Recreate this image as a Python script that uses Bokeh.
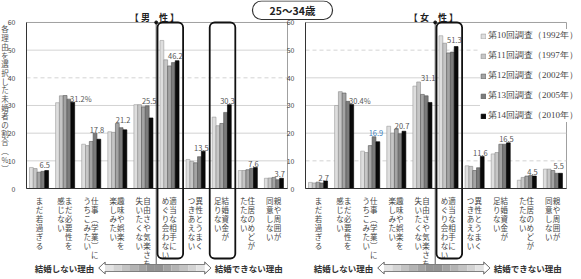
from bokeh.plotting import figure
from bokeh.models import (Range1d, LinearAxis, FixedTicker, ColumnDataSource, BoxAnnotation,
                          Legend, LegendItem)
from bokeh.embed import file_html
from bokeh.resources import INLINE
from bokeh.core.properties import value

# ---------------- data ----------------
survey_labels = ["第10回調査（1992年）", "第11回調査（1997年）", "第12回調査（2002年）",
                 "第13回調査（2005年）", "第14回調査（2010年）"]

categories = [["まだ若過ぎる"], ["まだ必要性を", "感じない"], ["仕事︵学業︶に", "うちこみたい"],
              ["趣味や娯楽を", "楽しみたい"], ["自由さや気楽さを", "失いたくない"],
              ["適当な相手に", "めぐり会わない"], ["異性とうまく", "つきあえない"],
              ["結婚資金が", "足りない"], ["住居のめどが", "たたない"], ["親や周囲が", "同意しない"]]

male_1992 = [7.6, 31.0, 16.0, 20.5, 30.3, 53.5, 10.5, 25.8, 6.5, 3.7]
male_1997 = [7.2, 33.5, 15.5, 20.3, 30.3, 46.5, 9.8, 22.7, 6.5, 3.8]
male_2002 = [5.9, 33.6, 17.0, 23.5, 29.5, 44.3, 9.3, 23.5, 6.8, 4.0]
male_2005 = [6.2, 32.3, 20.0, 22.0, 29.9, 45.5, 11.5, 27.5, 7.3, 3.2]
male_2010 = [6.5, 31.2, 17.8, 21.2, 25.5, 46.2, 13.5, 30.3, 7.6, 3.7]
male_labels = ["6.5", "31.2%", "17.8", "21.2", "25.5", "46.2", "13.5", "30.3", "7.6", "3.7"]

female_1992 = [2.2, 30.0, 13.5, 22.5, 37.0, 55.2, 8.2, 12.5, 3.0, 7.0]
female_1997 = [2.0, 35.0, 13.0, 20.0, 38.5, 52.5, 8.0, 13.0, 4.0, 7.0]
female_2002 = [2.3, 34.5, 15.5, 21.5, 34.0, 49.0, 6.5, 16.0, 4.5, 6.5]
female_2005 = [2.0, 31.5, 18.7, 19.8, 33.5, 49.3, 7.5, 16.0, 4.7, 5.5]
female_2010 = [2.7, 30.4, 16.9, 20.7, 31.1, 51.3, 11.6, 16.5, 4.5, 5.5]
female_labels = ["2.7", "30.4%", "16.9", "20.7", "31.1", "51.3", "11.6", "16.5", "4.5", "5.5"]

panel_titles = ["【 男　性 】", "【 女　性 】"]
main_title = "25～34歳"
y_title = "各理由を選択した未婚者の割合︵%︶"
y_ticks = [0, 10, 20, 30, 40, 50, 60]
reason_left = "結婚しない理由"
reason_right = "結婚できない理由"
male_boxed = [5, 7]
female_boxed = [5]

# ---------------- style / layout ----------------
fills = ["#dedede", "#c6c6c6", "#a4a4a4", "#7c7c7c", "#0a0a0a"]
lines = ["#9a9a9a", "#8c8c8c", "#555555", "#555555", "#000000"]
JP = "Noto Sans CJK JP"

W, H = 581, 279
PXX, X0, PXY, Y0 = 26.1, 26.0, 2.767, 188.0
def sx(px): return (px - X0) / PXX
def sy(py): return (Y0 - py) / PXY

offsets = [0.0, sx(305)]
bw = 0.146

p = figure(width=W, height=H, output_backend="svg", toolbar_location=None,
           x_axis_type=None, y_axis_type=None, min_border=0,
           x_range=Range1d(sx(0), sx(W)), y_range=Range1d(sy(H), sy(0)))
p.outline_line_color = None
p.background_fill_color = "white"
p.xgrid.visible = False
p.ygrid.visible = False

grid_dash = [{10: "solid", 20: "solid", 30: "solid", 40: "4 3", 50: "solid"},
             {10: "4 3", 20: "solid", 30: "solid", 40: "solid", 50: "4 3"}]

for pi, off in enumerate(offsets):
    p.quad(left=[off], right=[off + 10], bottom=[0], top=[60], fill_color=None,
           line_color="#a0a0a0", line_width=1)
    for t in y_ticks[1:-1]:
        p.segment(x0=[off], x1=[off + 10], y0=[t], y1=[t], line_color="#c8c8c8",
                  line_width=0.8, line_dash=grid_dash[pi][t])
    ya = LinearAxis(fixed_location=off, bounds=(0, 60), ticker=FixedTicker(ticks=y_ticks),
                    axis_line_color="#333333", axis_line_width=1,
                    major_tick_line_color=None, minor_tick_line_color=None,
                    major_label_text_font=JP, major_label_text_font_size="7px",
                    major_label_text_color="#444444", major_label_standoff=5)
    p.add_layout(ya, "left")
    xa = LinearAxis(fixed_location=0, bounds=(off, off + 10), ticker=FixedTicker(ticks=[]),
                    axis_line_color="#333333", axis_line_width=1,
                    major_tick_line_color=None, minor_tick_line_color=None,
                    major_label_text_font_size="0px")
    p.add_layout(xa, "below")

male = [male_1992, male_1997, male_2002, male_2005, male_2010]
female = [female_1992, female_1997, female_2002, female_2005, female_2010]

renderers = []
for k in range(5):
    xs, tops = [], []
    for off, series in zip(offsets, [male[k], female[k]]):
        for i, v in enumerate(series):
            xs.append(off + i + 0.5 + (k - 2) * bw - 0.02)
            tops.append(v)
    src = ColumnDataSource(dict(x=xs, top=tops))
    r = p.vbar(x="x", top="top", bottom=0, width=bw, source=src,
               fill_color=fills[k], line_color=lines[k], line_width=0.6)
    renderers.append(r)

# value labels
for off, data, labels in zip(offsets, [male, female], [male_labels, female_labels]):
    cx, cy, ct, cc = [], [], [], []
    px_, py_, pt_ = [], [], []
    for i, lab in enumerate(labels):
        vals = [s[i] for s in data]
        if lab.endswith("%"):
            px_.append(off + i + 0.5 + 0.17); py_.append(vals[4]); pt_.append(lab)
        else:
            cx.append(off + i + 0.5 + 0.2); cy.append(max(vals[1:])); ct.append(lab)
            cc.append("#3d7fc0" if lab == "16.9" else "#555555")
    src = ColumnDataSource(dict(x=cx, y=cy, t=ct, c=cc))
    p.text(x="x", y="y", text="t", text_color="c", source=src, text_font=value(JP),
           text_font_size="7.5px", text_align="center", text_baseline="alphabetic", y_offset=-3.5)
    p.text(x=px_, y=py_, text=pt_, text_color="#555555", text_font=value(JP),
           text_font_size="7.5px", text_align="left", text_baseline="alphabetic", y_offset=-3.5)

# category labels (vertical writing, right column first)
tx, tt = [], []
for off in offsets:
    for i, cols in enumerate(categories):
        c = off + i + 0.5
        if len(cols) == 1:
            pos = [c]
        else:
            pos = [c + 3.0 / PXX, c - 4.6 / PXX]
        for xpos, col in zip(pos, cols):
            tx.append(xpos); tt.append("\n".join(col))
p.text(x=tx, y=[0] * len(tx), text=tt, text_font=value(JP), text_font_size="7.5px",
       text_color="#444444", text_align="center", text_baseline="top", y_offset=6,
       text_line_height=0.82)

# y title (vertical)
p.text(x=[sx(4.5)], y=[60], text=["\n".join(y_title)], text_font=value(JP),
       text_font_size="7.5px", text_color="#555555", text_align="center",
       text_baseline="top", text_line_height=0.79, y_offset=1)

# highlight boxes
for off, boxed in zip(offsets, [male_boxed, female_boxed]):
    for i in boxed:
        p.add_layout(BoxAnnotation(left=off + i + 0.02, right=off + i + 1.0, top=60,
                                   bottom=sy(258), fill_color=None, fill_alpha=0,
                                   line_color="#111111", line_alpha=1.0, line_width=1.8,
                                   border_radius=5))

# separators, titles, arrows
yc = sy(267.5)
for off, title in zip(offsets, panel_titles):
    p.segment(x0=[off + 4.97], x1=[off + 4.97], y0=[60], y1=[yc], line_color="#333333",
              line_width=0.8)
    p.scatter(x=[off + 4.97, off + 4.97], y=[60, yc], size=3, color="#111111")
    p.text(x=[off + 4.9], y=[sy(16.5)], text=[title], text_font=value(JP),
           text_font_size="9px", text_font_style="bold", text_color="#222222",
           text_align="center", text_baseline="middle")
    a0, a1, h = off + 2.77, off + 7.07, 0.24
    bh, hh = 3.5 / PXY, 6.0 / PXY
    xs = [a0, a0 + h, a0 + h, a1 - h, a1 - h, a1, a1 - h, a1 - h, a0 + h, a0 + h]
    ys = [yc, yc + hh, yc + bh, yc + bh, yc + hh, yc, yc - hh, yc - bh, yc - bh, yc - hh]
    p.patch(xs, ys, fill_color="white", line_color="#7a7a7a", line_width=0.9)
    n = 12
    seg = (a1 - a0 - 2 * h) / n
    greys = []
    for j in range(n):
        d = abs((j + 0.5) / n - 0.5) * 2
        g = int(140 + 95 * d)
        greys.append("#%02x%02x%02x" % (g, g, g))
    p.quad(left=[a0 + h + j * seg for j in range(n)], right=[a0 + h + (j + 1) * seg for j in range(n)],
           bottom=[yc - bh] * n, top=[yc + bh] * n, fill_color=greys, line_color=None)
    p.patch(xs, ys, fill_color=None, line_color="#7a7a7a", line_width=0.9)
    p.text(x=[off + 1.46, off + 8.52], y=[yc, yc], text=[reason_left, reason_right],
           text_font=value(JP), text_font_size="8.5px", text_font_style="bold",
           text_color="#333333", text_align="center", text_baseline="middle")

# main title pill
p.add_layout(BoxAnnotation(left=sx(252), right=sx(332), top=sy(0.5), bottom=sy(19),
                           fill_color="white", fill_alpha=1.0, line_color="#333333",
                           line_alpha=1.0, line_width=1.2, border_radius=9))
tr = p.text(x=[sx(292)], y=[sy(10)], text=[main_title], text_font=value(JP), text_font_size="10.5px",
            text_font_style="bold", text_color="#222222", text_align="center", text_baseline="middle")
tr.level = "overlay"

legend = Legend(items=[LegendItem(label=survey_labels[k], renderers=[renderers[k]]) for k in range(5)],
                location=(480, 157), glyph_width=6, glyph_height=6, label_height=12,
                label_standoff=2, spacing=7, padding=2, margin=0,
                label_text_font="Liberation Serif", label_text_font_size="9px",
                label_text_color="#444444", background_fill_color="white",
                background_fill_alpha=1.0, border_line_color=None)
p.add_layout(legend)

open("out.html", "w").write(file_html(p, INLINE))
